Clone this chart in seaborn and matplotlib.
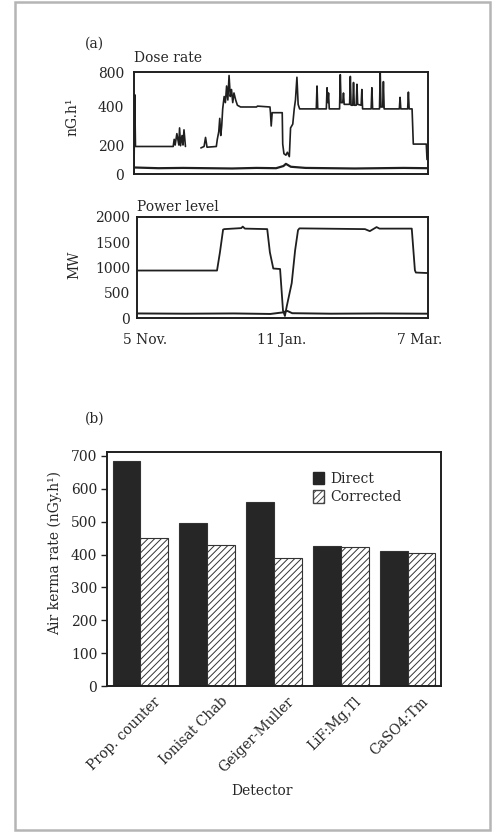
import numpy as np
import pandas as pd
import matplotlib
matplotlib.use("Agg")
import matplotlib.pyplot as plt
import matplotlib.transforms as mtransforms
from matplotlib.patches import Rectangle, Patch
import seaborn as sns

# ---------------- data ----------------
# (a) dose rate record: day index from 5 Nov., value in nG.h^-1 (NaN = no record)
dose_day = [0.0, 0.3, 0.6, 16.0, 16.4, 16.8, 17.5, 18.3, 18.6, 19.0, 19.6, 20.0, 20.4, 21.0,
            np.nan,
            27.3, 28.6, 29.2, 29.8, 33.6, 34.0, 34.6, 35.0, 35.4, 35.8, 36.2, 36.8, 37.3,
            37.8, 38.3, 38.8, 39.3, 39.8, 40.3, 40.8, 41.5, 42.2, 43.5, 50.0, 50.4, 55.5,
            55.7, 56.0, 56.4, 60.5, 60.7, 61.2, 62.0, 62.6, 63.4, 63.9, 64.8, 65.4, 65.9,
            66.5, 67.0, 67.6, 74.4, 74.7, 75.0, 78.5, 78.8, 79.1, 79.4, 79.7, 83.9, 84.2,
            84.5, 85.2, 85.5, 85.8, 88.0, 88.3, 88.6, 89.3, 89.6, 89.9, 90.7, 91.0, 91.3,
            92.7, 93.0, 93.3, 96.8, 97.1, 97.4, 100.2, 100.5, 100.8, 101.5, 101.8, 102.1,
            108.3, 108.6, 108.9, 111.7, 112.0, 112.3, 113.5, 114.0, 119.3, 119.6]
dose_value = [0, 540, 190, 190, 230, 200, 260, 200, 290, 195, 250, 200, 280, 190,
              np.nan,
              180, 190, 240, 185, 190, 230, 270, 340, 250, 300, 390, 520, 450,
              640, 480, 760, 520, 600, 450, 560, 480, 420, 400, 400, 410, 400,
              370, 300, 370, 370, 205, 140, 130, 150, 120, 290, 310, 390, 480,
              740, 430, 390, 390, 640, 390, 390, 620, 450, 560, 390, 390, 770,
              450, 450, 560, 430, 430, 750, 420, 420, 680, 420, 420, 660, 430,
              420, 600, 390, 390, 620, 390, 390, 800, 400, 400, 690, 390,
              390, 510, 390, 390, 570, 390, 390, 205, 205, 100]

# (a) background channel recorded under the dose rate
dose_bg_day = [0.0, 10.0, 20.0, 30.0, 40.0, 50.0, 58.0, 61.0, 62.0, 64.0, 70.0, 80.0,
               90.0, 100.0, 110.0, 119.6]
dose_bg_value = [45, 40, 42, 40, 38, 42, 40, 55, 70, 50, 42, 40, 38, 40, 42, 40]

# (a) reactor power level, MW
power_day = [0.0, 33.0, 34.2, 35.5, 36.0, 43.0, 43.6, 44.5, 53.7, 54.8, 56.2, 59.0,
             60.2, 61.0, 61.7, 63.8, 65.2, 66.4, 67.0, 94.0, 96.0, 98.8, 100.0,
             113.3, 114.6, 115.0, 120.0]
power_value = [940, 940, 1300, 1750, 1760, 1780, 1810, 1770, 1760, 1300, 980, 970,
               150, 40, 220, 690, 1340, 1740, 1775, 1760, 1720, 1800, 1770,
               1770, 945, 900, 890]

# (a) power channel baseline
power_bg_day = [0.0, 20.0, 40.0, 55.0, 60.0, 62.0, 64.0, 80.0, 100.0, 120.0]
power_bg_value = [90, 85, 90, 80, 110, 140, 95, 85, 90, 85]

date_ticks = [3.3, 59.8, 116.7]
date_labels = ["5 Nov.", "11 Jan.", "7 Mar."]

# (b) air kerma rate per detector
detectors = ["Prop. counter", "Ionisat Chab", "Geiger-Muller", "LiF:Mg,Tl", "CaSO4:Tm"]
direct = [685, 495, 560, 425, 410]
corrected = [450, 430, 390, 424, 405]

# ---------------- style ----------------
sns.set_theme(style="white")
plt.rcParams["font.family"] = ["DejaVu Serif", "DejaVu Sans"]
plt.rcParams["font.size"] = 10
plt.rcParams["hatch.linewidth"] = 0.7
plt.rcParams["hatch.color"] = "#444444"
INK = "#1f1f1f"

fig = plt.figure(figsize=(5.0, 8.32), dpi=100)
W, H = 500.0, 832.0


def box(l, t, r, b):
    return [l / W, 1 - b / H, (r - l) / W, (b - t) / H]


# outer frame of the figure
fig.patches.append(Rectangle((15 / W, 2 / H), 475 / W, 828 / H, transform=fig.transFigure,
                             fill=False, edgecolor="#b5b5b5", linewidth=1.8))

# ---------- (a) dose rate ----------
ax1 = fig.add_axes(box(134, 72, 428, 174))
knots_v = [-1000, 0, 200, 400, 800, 2000]
knots_f = [-1.42, 0.0, 0.284, 0.657, 1.0, 1.86]


def fwd(v):
    return np.interp(v, knots_v, knots_f)


def inv(f):
    return np.interp(f, knots_f, knots_v)


ax1.set_yscale("function", functions=(fwd, inv))

dose_df = pd.DataFrame({"day": dose_day, "value": dose_value})
dose_df["seg"] = dose_df["day"].isna().cumsum()
dose_df = dose_df.dropna()
sns.lineplot(data=dose_df, x="day", y="value", units="seg", estimator=None, sort=False,
             color=INK, linewidth=1.2, ax=ax1)
sns.lineplot(x=dose_bg_day, y=dose_bg_value, estimator=None, sort=False,
             color=INK, linewidth=1.6, ax=ax1)
ax1.set_ylim(0, 800)
ax1.set_yticks([0, 200, 400, 800])
ax1.set_yticklabels(["0", "200", "400", "800"])
ax1.set_xlim(0, 120)
ax1.set_xticks([])
ax1.set_xlabel("")
ax1.set_ylabel("nG.h¹", fontsize=10)
ax1.yaxis.set_label_coords(-0.185, 0.56)
ax1.set_title("Dose rate", loc="left", pad=7, fontsize=10)
ax1.tick_params(axis="y", direction="in", length=3, width=1, pad=7, labelsize=10, color=INK)

# ---------- (a) power level ----------
ax2 = fig.add_axes(box(137, 217, 428, 318))
sns.lineplot(x=power_day, y=power_value, estimator=None, sort=False,
             color=INK, linewidth=1.3, ax=ax2)
sns.lineplot(x=power_bg_day, y=power_bg_value, estimator=None, sort=False,
             color=INK, linewidth=1.4, ax=ax2)
ax2.set_ylim(0, 2000)
ax2.set_yticks([0, 500, 1000, 1500, 2000])
ax2.set_xlim(0, 120)
ax2.set_xticks(date_ticks)
ax2.set_xticklabels(date_labels)
ax2.set_xlabel("")
ax2.set_ylabel("MW", fontsize=10)
ax2.yaxis.set_label_coords(-0.19, 0.525)
ax2.set_title("Power level", loc="left", pad=4, fontsize=10)
ax2.tick_params(axis="y", direction="in", length=3, width=1, pad=5, labelsize=10, color=INK)
ax2.tick_params(axis="x", length=0, pad=11, labelsize=10)

for ax in (ax1, ax2):
    for s in ax.spines.values():
        s.set_linewidth(1.4)
        s.set_color(INK)

fig.text(85 / W, 1 - 48 / H, "(a)", fontsize=10, va="baseline")
fig.text(85 / W, 1 - 423 / H, "(b)", fontsize=10, va="baseline")

# ---------- (b) air kerma bars ----------
ax3 = fig.add_axes(box(107, 452, 441, 686))
bar_df = pd.DataFrame({
    "Detector": detectors * 2,
    "rate": direct + corrected,
    "kind": ["Direct"] * len(detectors) + ["Corrected"] * len(detectors),
})
sns.barplot(data=bar_df, x="Detector", y="rate", hue="kind",
            palette={"Direct": "#262626", "Corrected": "white"},
            width=0.83, gap=0, edgecolor="#333333", linewidth=0.8, ax=ax3,
            legend=False)
for patch in ax3.containers[1]:
    patch.set_hatch("/////")

ax3.set_ylim(0, 712)
ax3.set_yticks(range(0, 701, 100))
ax3.set_xlim(-0.5, 4.5)
ax3.tick_params(axis="y", direction="out", length=4, width=1, pad=3, labelsize=10,
                left=True, color=INK)
ax3.tick_params(axis="x", length=0, pad=6, labelsize=10)
offset = mtransforms.ScaledTranslation(13 / 100, 0, fig.dpi_scale_trans)
for lab in ax3.get_xticklabels():
    lab.set_rotation(45)
    lab.set_ha("right")
    lab.set_va("top")
    lab.set_rotation_mode("anchor")
    lab.set_transform(lab.get_transform() + offset)
for s in ax3.spines.values():
    s.set_linewidth(1.4)
    s.set_color(INK)

ax3.set_xlabel("Detector", fontsize=10)
ax3.xaxis.set_label_coords(0.464, -0.42)
ax3.set_ylabel("Air kerma rate (nGy.h¹)", fontsize=10)
ax3.yaxis.set_label_coords(-0.135, 0.568)

handles = [Patch(facecolor="#262626", edgecolor="#262626"),
           Patch(facecolor="white", edgecolor="#444444", hatch="/////")]
ax3.legend(handles, ["Direct", "Corrected"], loc="upper left",
           bbox_to_anchor=(0.58, 0.97), frameon=False, fontsize=10,
           handlelength=0.8, handleheight=1.0, handletextpad=0.4, labelspacing=0.35)

fig.savefig("out.png", dpi=100, facecolor="white")
